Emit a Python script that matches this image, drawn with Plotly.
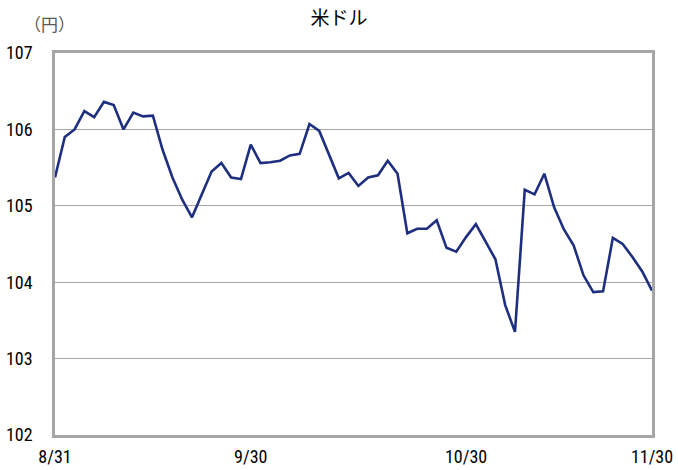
import pandas as pd
import plotly.graph_objects as go

# Tokyo business days from 8/31 to 11/30 (weekends and Japanese holidays removed)
holidays = ["2020-09-21", "2020-09-22", "2020-11-03", "2020-11-23"]
days = [d for d in pd.bdate_range("2020-08-31", "2020-11-30") if d.strftime("%Y-%m-%d") not in holidays]
dates = [f"{d.month}/{d.day}" for d in days]

# USD/JPY daily rate (yen)
usdjpy = [
    105.37, 105.90, 106.00, 106.24, 106.16, 106.36, 106.32, 106.00, 106.22, 106.17,
    106.18, 105.73, 105.37, 105.08, 104.85, 105.15, 105.45, 105.56, 105.37, 105.35,
    105.80, 105.56, 105.57, 105.59, 105.66, 105.68, 106.07, 105.98, 105.66, 105.36,
    105.43, 105.26, 105.37, 105.40, 105.59, 105.42, 104.64, 104.70, 104.70, 104.81,
    104.45, 104.40, 104.59, 104.76, 104.53, 104.30, 103.70, 103.35, 105.21, 105.15,
    105.42, 104.98, 104.69, 104.48, 104.09, 103.87, 103.88, 104.58, 104.50, 104.33,
    104.14, 103.89,
]

x_ticks = ["8/31", "9/30", "10/30", "11/30"]
y_ticks = [102, 103, 104, 105, 106, 107]

font_jp = "Noto Sans CJK JP"
font_num = "Liberation Sans Narrow, Roboto Condensed, Noto Sans CJK JP"

fig = go.Figure(
    go.Scatter(
        x=dates,
        y=usdjpy,
        mode="lines",
        line=dict(color="#1f2f80", width=2.6),
        hoverinfo="x+y",
    )
)

fig.update_layout(
    width=678,
    height=470,
    margin=dict(l=55, r=26, t=53, b=35),
    paper_bgcolor="white",
    plot_bgcolor="white",
    showlegend=False,
    title=dict(
        text="米ドル",
        x=0.5,
        xanchor="center",
        y=1 - 18 / 470,
        yanchor="middle",
        font=dict(family=font_jp, size=19, color="#000000"),
    ),
    annotations=[
        dict(
            text="（円）",
            xref="paper",
            yref="paper",
            x=-33 / 597,
            xanchor="left",
            y=1 + 30 / 382,
            yanchor="middle",
            showarrow=False,
            font=dict(family=font_jp, size=17, color="#595959"),
        )
    ],
)

fig.update_xaxes(
    type="category",
    categoryorder="array",
    categoryarray=dates,
    tickmode="array",
    tickvals=x_ticks,
    ticktext=x_ticks,
    range=[0, len(dates) - 1],
    automargin=False,
    showgrid=False,
    showline=True,
    linecolor="#a6a6a6",
    linewidth=2.5,
    mirror=True,
    ticks="",
    tickfont=dict(family=font_num, size=18, color="#000000"),
    ticklabelstandoff=4,
)

fig.update_yaxes(
    range=[102, 107],
    tickmode="array",
    tickvals=y_ticks,
    ticktext=[str(v) for v in y_ticks],
    automargin=False,
    showgrid=True,
    gridcolor="#a6a6a6",
    gridwidth=1,
    showline=True,
    linecolor="#a6a6a6",
    linewidth=2.5,
    mirror=True,
    zeroline=False,
    ticks="",
    tickfont=dict(family=font_num, size=18, color="#000000"),
    ticklabelstandoff=16,
)

fig.write_html("out.html")
